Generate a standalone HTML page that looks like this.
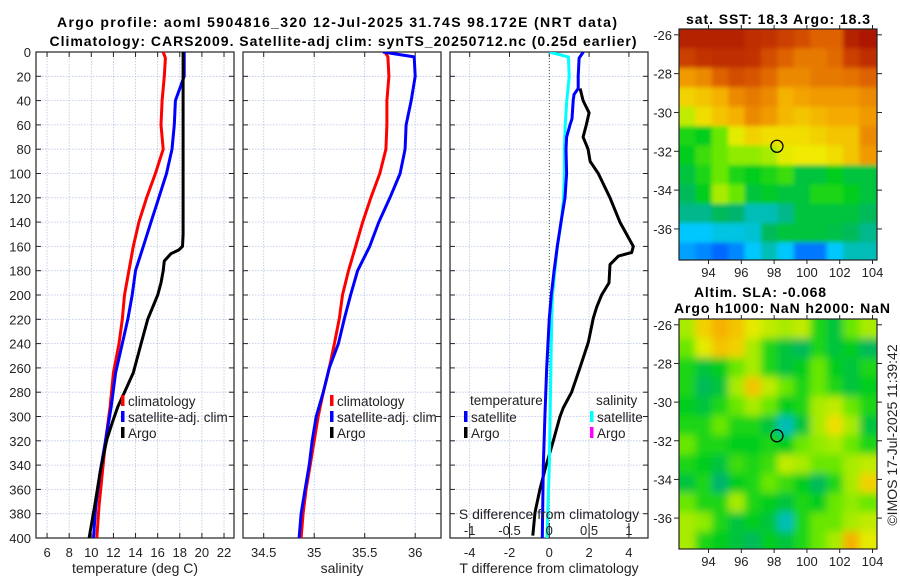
<!DOCTYPE html>
<html><head><meta charset="utf-8"><style>
body{margin:0;background:#fff;}
svg{display:block;font-family:"Liberation Sans","DejaVu Sans",sans-serif;}
</style></head><body>
<svg id="fig" width="900" height="580" viewBox="0 0 900 580" xmlns="http://www.w3.org/2000/svg">
<defs>
<clipPath id="cp1"><rect x="36" y="52" width="198" height="486"/></clipPath>
<clipPath id="cp2"><rect x="243" y="52" width="198" height="486"/></clipPath>
<clipPath id="cp3"><rect x="450" y="52" width="198" height="486"/></clipPath>
<clipPath id="cpm1"><rect x="679" y="29" width="198" height="231"/></clipPath>
<clipPath id="cpm2"><rect x="679" y="319" width="198" height="230"/></clipPath>
<filter id="blur" x="-5%" y="-5%" width="110%" height="110%"><feGaussianBlur stdDeviation="4"/></filter>
<filter id="blur2" x="-5%" y="-5%" width="110%" height="110%"><feGaussianBlur stdDeviation="2"/></filter>
</defs>
<text x="337" y="27" font-size="14" font-weight="bold" text-anchor="middle" textLength="560">Argo profile: aoml 5904816_320 12-Jul-2025 31.74S 98.172E (NRT data)</text>
<text x="343" y="46" font-size="14" font-weight="bold" text-anchor="middle" textLength="587">Climatology: CARS2009. Satellite-adj clim: synTS_20250712.nc (0.25d earlier)</text>
<text x="778" y="24" font-size="14" font-weight="bold" text-anchor="middle" textLength="184">sat. SST: 18.3 Argo: 18.3</text>
<text x="760" y="297" font-size="14" font-weight="bold" text-anchor="middle" textLength="132">Altim. SLA: -0.068</text>
<text x="782" y="313" font-size="14" font-weight="bold" text-anchor="middle" textLength="216">Argo h1000: NaN h2000: NaN</text>
<text transform="translate(897,435) rotate(-90)" font-size="14" text-anchor="middle" fill="#222">©IMOS 17-Jul-2025 11:39:42</text>
<g id="g"></g>
</svg>
<script>
// ---- data ----
const depthClim = [0,5,20,40,60,80,100,120,140,160,180,200,220,240,264,292,319,346,374,400];
const tempClim  = [16.5,16.7,16.6,16.4,16.3,16.5,15.8,15.0,14.3,13.8,13.4,13.0,12.8,12.5,12.0,11.7,11.3,11.0,10.7,10.5];
const tempSat   = [18.4,18.4,18.4,17.6,17.5,17.3,16.8,16.1,15.4,14.7,14.0,13.7,13.3,12.8,12.2,11.8,11.3,10.8,10.4,10.2];
const depthArgo = [0,20,40,80,120,150,160,163,166,172,180,190,200,220,240,264,280,292,305,319,346,374,400];
const tempArgo  = [18.3,18.3,18.3,18.3,18.3,18.3,18.25,17.9,17.2,16.6,16.5,16.3,16.0,15.1,14.5,13.8,13.0,12.4,11.9,11.4,10.8,10.3,9.8];
const depthSal = [0,4,20,40,60,80,100,120,140,160,180,200,219,240,260,280,300,320,340,360,380,400];
const salClim  = [35.70,35.73,35.74,35.72,35.72,35.71,35.65,35.56,35.48,35.41,35.34,35.28,35.25,35.20,35.15,35.09,35.04,35.00,34.96,34.92,34.89,34.87];
const salSat   = [35.68,35.99,36.00,35.96,35.91,35.90,35.85,35.75,35.64,35.55,35.43,35.36,35.30,35.24,35.15,35.09,35.02,34.98,34.95,34.91,34.87,34.85];
const depthDT = [0,5,20,30,35,40,55,60,70,80,100,120,140,160,180,200,219,260,300,341,400];
const dTSat   = [1.71,1.5,1.45,1.45,1.24,1.2,1.14,1.04,0.87,0.84,0.87,0.79,0.59,0.4,0.24,0.1,0.0,-0.13,-0.22,-0.3,-0.35];
const depthDS = [0,4,20,40,60,80,100,120,140,160,180,200,220,260,300,340,400];
const dSSat   = [0,0.24,0.25,0.22,0.2,0.19,0.19,0.18,0.15,0.1,0.07,0.04,0.03,0.02,0.01,0.0,-0.03];
const depthDA = [30,40,50,60,70,80,90,100,120,140,160,165,168,175,190,200,210,219,239,260,280,293,300,320,341,360,379,398];
const dTArgo  = [1.55,1.7,2.0,1.86,1.7,1.95,2.05,2.46,3.05,3.55,4.22,4.14,3.47,3.05,3.0,2.63,2.38,2.21,1.96,1.54,1.12,0.7,0.54,0.2,-0.17,-0.47,-0.72,-0.83];
const depthTicks = [0,20,40,60,80,100,120,140,160,180,200,220,240,260,280,300,320,340,360,380,400];
const tempTicks = [6,8,10,12,14,16,18,20,22];
const salTicks = [34.5,35,35.5,36];
const dTTicks = [-4,-2,0,2,4];
const dSTicks = [-1,-0.5,0,0.5,1];
const latTicks = [-26,-28,-30,-32,-34,-36];
const lonTicks = [94,96,98,100,102,104];
const argoLon = 98.172, argoLat = -31.74;
const sstGrid = [
[0.95,0.95,0.95,0.95,0.93,0.92,0.90,0.88,0.85,0.85,0.95,0.97],
[0.90,0.92,0.93,0.93,0.92,0.88,0.85,0.82,0.82,0.84,0.90,0.93],
[0.78,0.80,0.85,0.88,0.87,0.84,0.80,0.80,0.82,0.82,0.83,0.85],
[0.70,0.72,0.75,0.80,0.82,0.80,0.75,0.77,0.78,0.78,0.78,0.80],
[0.62,0.68,0.72,0.75,0.80,0.78,0.74,0.72,0.74,0.76,0.76,0.78],
[0.50,0.48,0.55,0.65,0.70,0.68,0.68,0.68,0.70,0.72,0.72,0.80],
[0.48,0.52,0.55,0.58,0.58,0.60,0.65,0.66,0.66,0.68,0.72,0.78],
[0.45,0.50,0.55,0.50,0.48,0.50,0.52,0.45,0.45,0.48,0.45,0.45],
[0.42,0.48,0.60,0.55,0.45,0.47,0.45,0.45,0.50,0.50,0.48,0.45],
[0.38,0.38,0.42,0.40,0.35,0.35,0.38,0.45,0.45,0.45,0.45,0.42],
[0.30,0.30,0.32,0.32,0.33,0.42,0.45,0.45,0.45,0.44,0.42,0.38],
[0.25,0.22,0.18,0.22,0.30,0.35,0.30,0.20,0.20,0.30,0.35,0.35]];
const slaGrid = [
[0.60,0.70,0.75,0.72,0.65,0.62,0.60,0.62,0.50,0.45,0.55,0.60],
[0.55,0.65,0.72,0.70,0.60,0.50,0.45,0.42,0.50,0.45,0.48,0.42],
[0.50,0.45,0.48,0.55,0.60,0.50,0.45,0.48,0.55,0.48,0.45,0.50],
[0.50,0.42,0.45,0.60,0.72,0.62,0.55,0.50,0.55,0.50,0.45,0.48],
[0.48,0.45,0.50,0.55,0.60,0.55,0.48,0.50,0.60,0.62,0.55,0.50],
[0.50,0.50,0.55,0.50,0.50,0.45,0.35,0.45,0.60,0.68,0.60,0.45],
[0.55,0.50,0.50,0.48,0.48,0.50,0.48,0.55,0.58,0.60,0.55,0.50],
[0.50,0.48,0.45,0.52,0.50,0.52,0.62,0.60,0.55,0.55,0.60,0.62],
[0.45,0.50,0.40,0.48,0.50,0.55,0.52,0.48,0.42,0.50,0.60,0.70],
[0.55,0.50,0.50,0.60,0.50,0.48,0.45,0.50,0.48,0.55,0.58,0.55],
[0.60,0.58,0.50,0.45,0.48,0.45,0.35,0.50,0.55,0.55,0.60,0.62],
[0.60,0.50,0.48,0.45,0.42,0.48,0.45,0.50,0.55,0.60,0.75,0.65]];

const NS='http://www.w3.org/2000/svg';
const G=document.getElementById('g');
function mk(tag,attrs,parent){const e=document.createElementNS(NS,tag);for(const k in attrs)e.setAttribute(k,attrs[k]);(parent||G).appendChild(e);return e;}
const yD = d => 52 + d*486/400;
const xT = t => 36 + (t-5)*11.06;
const xS = s => 263.7 + (s-34.5)*101;
const xDT = v => 549.3 + v*19.9;
const xDS = v => 549.3 + v*4*19.9;

function panel(x0,ticks,xf,fmt,label,name){
  const grp=mk('g',{});
  
  
  ticks.forEach(t=>{const x=xf(t);
    mk('line',{x1:x,x2:x,y1:52,y2:538,stroke:'#b8c4e8','stroke-width':0.8,'stroke-dasharray':'1.5,1.5'},grp);
    mk('line',{x1:x,x2:x,y1:52,y2:57,stroke:'#222'},grp);
    mk('line',{x1:x,x2:x,y1:533,y2:538,stroke:'#222'},grp);
    const tx=mk('text',{x:x,y:557,'font-size':13,'text-anchor':'middle',fill:'#222'},grp);tx.textContent=fmt(t);
    
    
  });
  depthTicks.forEach(d=>{const y=yD(d);
    mk('line',{x1:x0,x2:x0+198,y1:y,y2:y,stroke:'#b8c4e8','stroke-width':0.8,'stroke-dasharray':'1.5,1.5'},grp);
    mk('line',{x1:x0,x2:x0+5,y1:y,y2:y,stroke:'#222'},grp);
    mk('line',{x1:x0+193,x2:x0+198,y1:y,y2:y,stroke:'#222'},grp);
  });
  const r=mk('rect',{x:x0,y:52,width:198,height:486,fill:'none',stroke:'#222','stroke-width':1.2},grp);
  
  
  const lb=mk('text',{x:x0+99,y:573,'font-size':14,'text-anchor':'middle',fill:'#222'},grp);lb.textContent=label;
  
  
  return grp;
}
panel(36,tempTicks,xT,String,'temperature (deg C)','temperature');
panel(243,salTicks,xS,String,'salinity','salinity');
panel(450,dTTicks,xDT,String,'T difference from climatology','difference');

depthTicks.forEach(d=>{const t=mk('text',{x:31,y:yD(d)+5,'font-size':13,'text-anchor':'end',fill:'#222'});t.textContent=d;
  
  });

function line(xs,ds,xf,color,clip,name,w){
  const pts=xs.map((v,i)=>xf(v).toFixed(1)+','+yD(ds[i]).toFixed(1)).join(' ');
  const p=mk('polyline',{points:pts,fill:'none',stroke:color,'stroke-width':w||3,'stroke-linejoin':'round','clip-path':'url(#'+clip+')'});
  
  
}
mk('line',{x1:xDT(0),x2:xDT(0),y1:52,y2:538,stroke:'#445533','stroke-width':1,'stroke-dasharray':'1,2'});
line(tempClim,depthClim,xT,'#ff0000','cp1','temp-climatology-line');
line(tempSat,depthClim,xT,'#0000ff','cp1','temp-satellite-line');
line(tempArgo,depthArgo,xT,'#000','cp1','temp-argo-line');
line(salClim,depthSal,xS,'#ff0000','cp2','sal-climatology-line');
line(salSat,depthSal,xS,'#0000ff','cp2','sal-satellite-line');
line(dTArgo,depthDA,xDT,'#000','cp3','tdiff-argo-line');
line(dSSat,depthDS,xDS,'#00ffff','cp3','sdiff-satellite-line');
line(dTSat,depthDT,xDT,'#0000ff','cp3','tdiff-satellite-line');

dSTicks.forEach(s=>{const x=xDS(s);
  mk('line',{x1:x,x2:x,y1:523,y2:533,stroke:'#222'});
  const t=mk('text',{x:x,y:535,'font-size':13,'text-anchor':'middle',fill:'#222'});t.textContent=String(s);
  
  });
const sl=mk('text',{x:549,y:519,'font-size':14,'text-anchor':'middle',fill:'#222'});sl.textContent='S difference from climatology';



function legend(x,y,color,label){
  mk('rect',{x:x-2,y:y-7,width:3.5,height:11,fill:color});
  const t=mk('text',{x:x+5,y:y+4,'font-size':13.5,fill:'#222'});t.textContent=label;
  
  
}
legend(123,402,'#ff0000','climatology');legend(123,418,'#0000ff','satellite-adj. clim');legend(123,434,'#000','Argo');
legend(332,402,'#ff0000','climatology');legend(332,418,'#0000ff','satellite-adj. clim');legend(332,434,'#000','Argo');
{const t=mk('text',{x:470,y:405,'font-size':13.5,fill:'#222'});t.textContent='temperature';
 
 
 const s=mk('text',{x:596,y:405,'font-size':13.5,fill:'#222'});s.textContent='salinity';
 
 }
legend(466,418,'#0000ff','satellite');legend(466,434,'#000','Argo');
legend(592,418,'#00ffff','satellite');legend(592,434,'#ff00ff','Argo');

// colormap (matches reference palette)
const cmapStops=[[0,[0,0,160]],[0.15,[0,80,255]],[0.3,[0,200,255]],[0.4,[0,180,110]],[0.48,[0,205,30]],[0.56,[120,235,0]],[0.66,[240,235,0]],[0.76,[245,170,0]],[0.86,[220,90,0]],[1,[160,0,0]]];
function cmap(v){
  v=Math.max(0,Math.min(1,v));
  for(let i=1;i<cmapStops.length;i++){const [a,ca]=cmapStops[i-1],[b,cb]=cmapStops[i];
    if(v<=b){const f=(v-a)/(b-a);return 'rgb('+ca.map((c,k)=>Math.round(c+(cb[k]-c)*f)).join(',')+')';}}
  return 'rgb(160,0,0)';
}
function map(grid,top,bottom,clip,name,blur){
  const latTop=-25.7, lonL=92.2, pxLon=16.4, pxLat=(bottom-top)/11.9;
  const xL = lon => 679 + (lon-lonL)*pxLon;
  const yL = lat => top + (latTop-lat)*pxLat;
  const outer=mk('g',{'clip-path':'url(#'+clip+')'});
  const grp=mk('g',{filter:blur?'url(#blur)':'url(#blur2)'},outer);
  
  
  grid.forEach((row,i)=>row.forEach((v,j)=>{
    const x0=xL(lonL+j), y0=yL(latTop-i);
    const ex=(j===0?-10:0), ey=(i===0?-10:0);
    mk('rect',{x:x0+ex,y:y0+ey,width:pxLon+0.6-ex+(j===row.length-1?10:0),height:pxLat+0.6-ey+(i===grid.length-1?10:0),fill:cmap(v)},grp);
  }));
  const ci=mk('ellipse',{cx:xL(argoLon),cy:yL(argoLat),rx:6,ry:6,fill:'none',stroke:'#000','stroke-width':1.3});
  
  
  const b=mk('rect',{x:679,y:top,width:198,height:bottom-top,fill:'none',stroke:'#222','stroke-width':1.2});
  
  
  latTicks.forEach(l=>{const y=yL(l);
    mk('line',{x1:674,x2:679,y1:y,y2:y,stroke:'#222'});mk('line',{x1:877,x2:882,y1:y,y2:y,stroke:'#222'});
    const t=mk('text',{x:672,y:y+5,'font-size':13,'text-anchor':'end',fill:'#222'});t.textContent=l;
    
    });
  lonTicks.forEach(l=>{const x=xL(l);
    mk('line',{x1:x,x2:x,y1:bottom,y2:bottom+4,stroke:'#222'});mk('line',{x1:x,x2:x,y1:top-4,y2:top,stroke:'#222'});
    const t=mk('text',{x:x,y:bottom+17,'font-size':13,'text-anchor':'middle',fill:'#222'});t.textContent=l;
    
    });
}
map(sstGrid,29,260,'cpm1','sst-map',false);
map(slaGrid,319,549,'cpm2','sla-map',true);
</script>
</body></html>
